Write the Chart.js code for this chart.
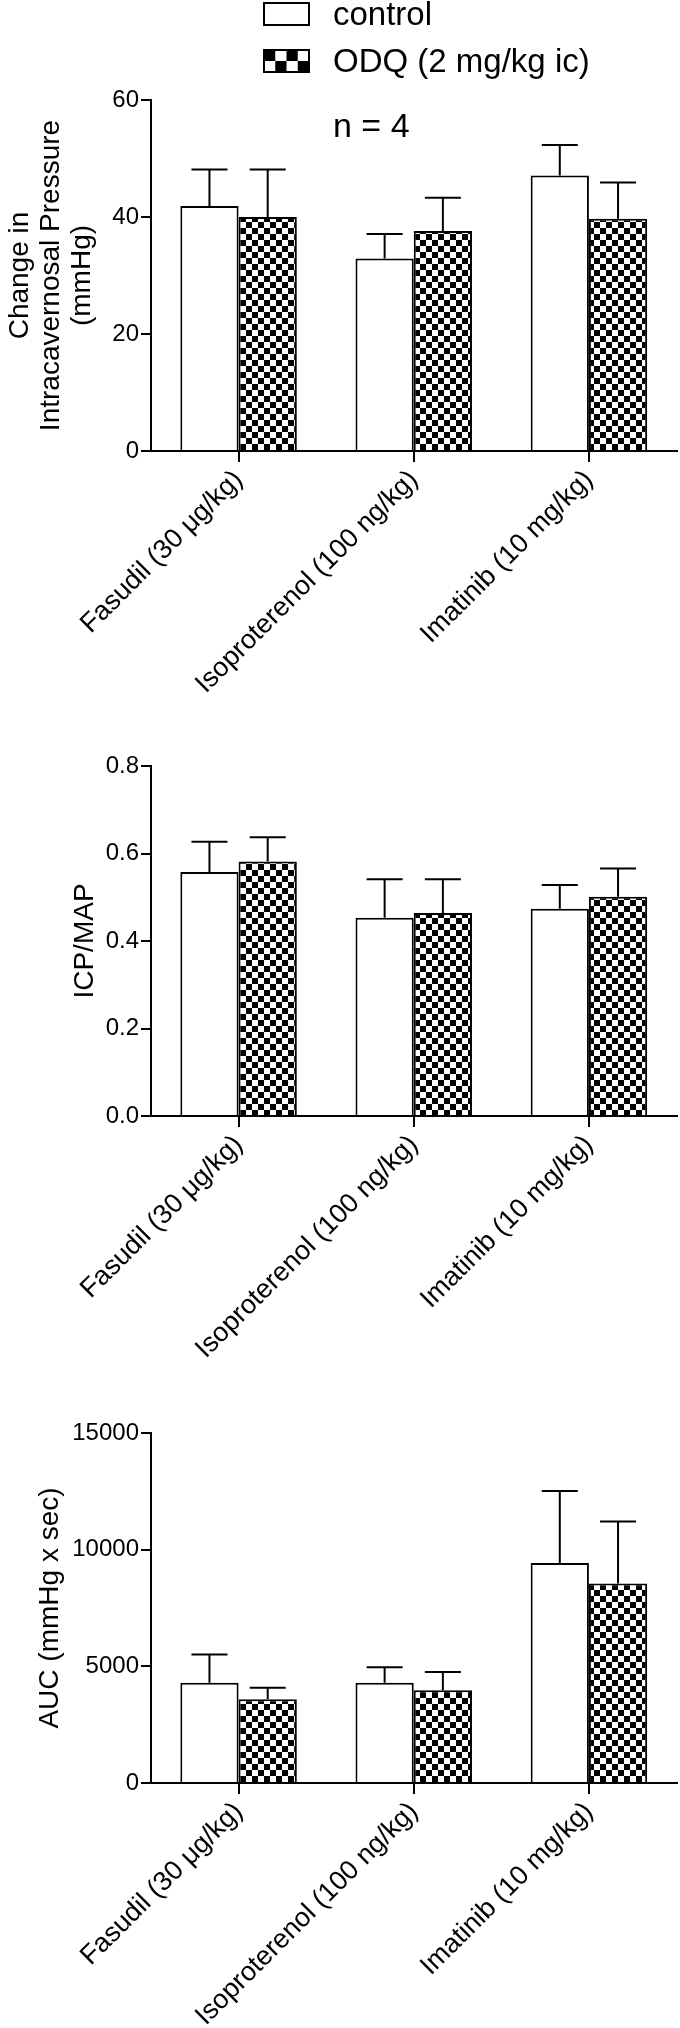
<!DOCTYPE html>
<html>
<head>
<meta charset="utf-8">
<script src="https://cdn.jsdelivr.net/npm/chart.js@4.4.1/dist/chart.umd.min.js"></script>
<style>
  body { margin: 0; background: #fff; width: 680px; height: 2028px; position: relative; overflow: hidden; }
  canvas { position: absolute; left: 0; }
</style>
</head>
<body>
<canvas id="icp" width="680" height="720" style="top:0px"></canvas>
<canvas id="ratio" width="680" height="720" style="top:666px"></canvas>
<canvas id="auc" width="680" height="696" style="top:1332px"></canvas>
<script>
// categories along the x-axis (same for all three panels)
var drugs = ['Fasudil (30 μg/kg)', 'Isoproterenol (100 ng/kg)', 'Imatinib (10 mg/kg)'];
var seriesNames = ['control', 'ODQ (2 mg/kg ic)'];

// panel 1: change in intracavernosal pressure (mmHg), mean + SEM
var icpControl    = [41.9, 32.9, 47.1];
var icpControlSem = [6.2, 4.2, 5.2];
var icpOdq        = [40.0, 37.6, 39.7];
var icpOdqSem     = [8.1, 5.7, 6.2];
var icpTicks      = [0, 60, 20];

// panel 2: ICP/MAP
var ratioControl    = [0.558, 0.453, 0.474];
var ratioControlSem = [0.069, 0.088, 0.054];
var ratioOdq        = [0.582, 0.464, 0.501];
var ratioOdqSem     = [0.055, 0.077, 0.065];
var ratioTicks      = [0, 0.8, 0.2];

// panel 3: AUC (mmHg x sec)
var aucControl    = [4300, 4300, 9430];
var aucControlSem = [1210, 660, 3080];
var aucOdq        = [3590, 3970, 8550];
var aucOdqSem     = [490, 790, 2660];
var aucTicks      = [0, 15000, 5000];

var FONT = '"Liberation Sans", Arial, Helvetica, sans-serif';
Chart.defaults.font.family = FONT;
Chart.defaults.color = '#000';

function checker(size) {
  var c = document.createElement('canvas');
  c.width = c.height = size * 2;
  var g = c.getContext('2d');
  g.fillStyle = '#fff';
  g.fillRect(0, 0, size * 2, size * 2);
  g.fillStyle = '#000';
  g.fillRect(0, 0, size, size);
  g.fillRect(size, size, size, size);
  return g.createPattern(c, 'repeat');
}
var checks = checker(6);

// SEM whiskers, only the upper half like the original
var errorBars = {
  id: 'errorBars',
  afterDatasetsDraw: function(chart) {
    var ctx = chart.ctx, y = chart.scales.y;
    ctx.save();
    ctx.strokeStyle = '#000';
    ctx.lineWidth = 2;
    chart.data.datasets.forEach(function(ds, i) {
      chart.getDatasetMeta(i).data.forEach(function(bar, j) {
        var top = y.getPixelForValue(ds.data[j] + ds.sem[j]);
        ctx.beginPath();
        ctx.moveTo(bar.x, bar.y);
        ctx.lineTo(bar.x, top);
        ctx.moveTo(bar.x - 18, top);
        ctx.lineTo(bar.x + 18, top);
        ctx.stroke();
      });
    });
    ctx.restore();
  }
};

// key + n in the top panel
var keyBox = {
  id: 'keyBox',
  afterDraw: function(chart) {
    var ctx = chart.ctx;
    ctx.save();
    ctx.lineWidth = 2;
    ctx.strokeStyle = '#000';
    ctx.fillStyle = '#fff';
    ctx.fillRect(264, 3, 45, 22);
    ctx.strokeRect(264, 3, 45, 22);
    ctx.fillRect(264, 50, 45, 22);
    ctx.fillStyle = '#000';
    for (var r = 0; r < 2; r++) {
      for (var c = 0; c < 4; c++) {
        if ((r + c) % 2 === 0) ctx.fillRect(264 + c * 11.25, 50 + r * 11, 11.25, 11);
      }
    }
    ctx.strokeRect(264, 50, 45, 22);
    ctx.font = '33px ' + FONT;
    ctx.textBaseline = 'alphabetic';
    ctx.fillText(seriesNames[0], 333, 25);
    ctx.fillText(seriesNames[1], 333, 72);
    ctx.font = '34px ' + FONT;
    ctx.fillText('n = 4', 333, 137);
    ctx.restore();
  }
};

function panel(id, control, controlSem, odq, odqSem, range, fmt, title, titlePad, padTop, xHeight, extra) {
  return new Chart(document.getElementById(id), {
    type: 'bar',
    data: {
      labels: drugs,
      datasets: [
        { label: seriesNames[0], data: control, sem: controlSem, backgroundColor: '#fff',
          borderColor: '#000', borderWidth: 2 },
        { label: seriesNames[1], data: odq, sem: odqSem, backgroundColor: checks,
          borderColor: '#000', borderWidth: 2 }
      ]
    },
    options: {
      responsive: false,
      devicePixelRatio: 1,
      animation: false,
      categoryPercentage: 0.665,
      barPercentage: 1,
      layout: { padding: { top: padTop, right: 3.5, left: 0, bottom: 0 } },
      plugins: { legend: { display: false }, tooltip: { enabled: false } },
      scales: {
        x: {
          afterFit: function(s) { s.height = xHeight; },
          border: { color: '#000', width: 2 },
          grid: { offset: false, drawOnChartArea: false, drawTicks: true, tickLength: 11, color: '#000', lineWidth: 2 },
          ticks: { font: { size: 27 }, color: '#000', minRotation: 45, maxRotation: 45, autoSkip: false, padding: 2 }
        },
        y: {
          min: range[0], max: range[1],
          afterFit: function(s) { s.width = 151; },
          border: { color: '#000', width: 2 },
          grid: { drawOnChartArea: false, drawTicks: true, tickLength: 10, color: '#000', lineWidth: 2 },
          ticks: { stepSize: range[2], font: { size: 24 }, color: '#000', padding: 2, callback: fmt },
          title: { display: true, text: title, font: { size: 28, lineHeight: 1.1 }, color: '#000', padding: { top: titlePad, bottom: 0 } }
        }
      }
    },
    plugins: [errorBars].concat(extra || [])
  });
}

panel('icp', icpControl, icpControlSem, icpOdq, icpOdqSem, icpTicks,
  function(v) { return String(v); },
  ['Change in', 'Intracavernosal Pressure', '(mmHg)'], 5, 100, 269, [keyBox]);

panel('ratio', ratioControl, ratioControlSem, ratioOdq, ratioOdqSem, ratioTicks,
  function(v) { return v.toFixed(1); },
  'ICP/MAP', 70, 100, 270);

panel('auc', aucControl, aucControlSem, aucOdq, aucOdqSem, aucTicks,
  function(v) { return String(Math.round(v)); },
  'AUC (mmHg x sec)', 35, 101, 245);
</script>
</body>
</html>
